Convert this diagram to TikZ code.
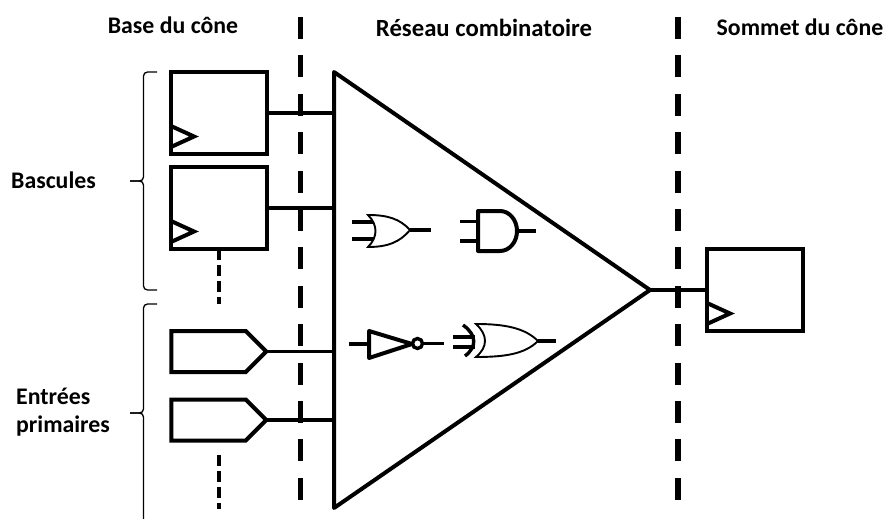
\documentclass[tikz,border=0pt]{standalone}
\usepackage{fontspec}
\setmainfont{Carlito}
\usetikzlibrary{positioning, shapes.symbols}
\tikzstyle{wire} = [line width=3.4pt]
\tikzstyle{body} = [line width=4pt]
\tikzstyle{thinwire} = [line width=1.9pt]
\tikzstyle{limit} = [line width=5.5pt, dash pattern=on 22pt off 16.4pt]
\tikzstyle{more} = [line width=3.4pt, dash pattern=on 10.5pt off 5.5pt]
\tikzstyle{accolade} = [line width=1.3pt, rounded corners=4pt]
\tikzstyle{title} = [font=\bfseries\fontsize{23.8}{28}\selectfont, inner sep=0pt]
\tikzset{
  bascule/.style={rectangle, draw, line width=4pt, inner sep=0pt, outer sep=0pt, minimum width=96pt, minimum height=82pt},
  entree/.style={signal, signal to=east, signal from=nowhere, signal pointer angle=90, draw, line width=4pt, inner sep=0pt, outer sep=0pt, minimum width=95pt, minimum height=41pt}
}
% clock mark of a flip-flop, #1 is the node
\newcommand{\horloge}[1]{%
  \draw[body, line join=miter] (#1.south west) ++(0,-28) -- ++(23,10.5) -- ++(-23,10.5);
}
\begin{document}
\begin{tikzpicture}[x=1pt, y=-1pt]
  \useasboundingbox (0,0) rectangle (887,519);

  % Titles
  \node[title] (base) at (173,25) {Base du cône};
  \node[title, font=\bfseries\fontsize{24.7}{28}\selectfont] (reseau) at (484,28) {Réseau combinatoire};
  \node[title] (sommet) at (800,27) {Sommet du cône};
  \node[title] (bascules) at (53.5,180) {Bascules};
  \node[title, align=left, anchor=west] (entrees) at (16,412.5) {Entrées\\primaires};

  % Cone
  \coordinate (coneA) at (334,72);
  \coordinate (coneB) at (650,290);
  \coordinate (coneC) at (334,508);
  \draw[body, line join=round] (coneA) -- (coneB) -- (coneC) -- cycle;

  % Flip-flops
  \node[bascule] (basculeA) at (219,113) {};
  \node[bascule] (basculeB) at (219,208) {};
  \node[bascule] (basculeC) at (755,290) {};
  \horloge{basculeA}
  \horloge{basculeB}
  \horloge{basculeC}

  % Primary inputs
  \node[entree] (entreeA) at (208.5,351.5) {};
  \node[entree] (entreeB) at (208.5,420) {};

  % Links to the cone
  \coordinate (inA) at (334,113);
  \coordinate (inB) at (334,208);
  \coordinate (inC) at (334,351.5);
  \coordinate (inD) at (334,420);
  \draw[wire] (basculeA.east) -- (inA);
  \draw[wire] (basculeB.east) -- (inB);
  \draw[wire] (entreeA.east) -- (inC);
  \draw[wire] (entreeB.east) -- (inD);
  \draw[wire] (coneB) -- (basculeC.west);

  % Limits of the cone
  \coordinate (limitA) at (300.5,17);
  \coordinate (limitB) at (300.5,500);
  \coordinate (limitC) at (678,17);
  \coordinate (limitD) at (678,500);
  \draw[limit] (limitA) -- (limitB);
  \draw[limit] (limitC) -- (limitD);

  % Further flip-flops and inputs
  \coordinate (moreA) at (219,304);
  \coordinate (moreB) at (219,455);
  \coordinate (moreC) at (219,509);
  \draw[more] (basculeB.south) -- (moreA);
  \draw[more] (moreB) -- (moreC);

  % Braces
  \draw[accolade] (157,72) -- (143.5,72) -- (143.5,181) -- (130,181);
  \draw[accolade] (130,181) -- (143.5,181) -- (143.5,290) -- (157,290);
  \draw[accolade] (157,304) -- (143.5,304) -- (143.5,413) -- (130,413);
  \draw[accolade] (130,413) -- (143.5,413) -- (143.5,519);

  % OR gate
  \draw[wire] (352,222) -- (374,222);
  \draw[wire] (352,239) -- (374,239);
  \draw[thinwire, fill=white] (368,215) .. controls (378,225) and (378,237) .. (368,247)
    .. controls (388,247) and (400,242) .. (410,230) .. controls (400,219) and (388,215) .. (368,215) -- cycle;
  \draw[wire] (410,230) -- (431,230);

  % AND gate
  \draw[wire] (460,221.5) -- (478,221.5);
  \draw[wire] (460,241) -- (478,241);
  \draw[body, line join=round] (500,251) -- (478,251) -- (478,211) -- (500,211) arc (90:-90:17pt and 20pt);
  \draw[wire] (517,231) -- (536,231);

  % NOT gate
  \draw[wire] (349,344) -- (369,344);
  \draw[body, line join=round] (369,331) -- (412,344) -- (369,358) -- cycle;
  \draw[wire] (417.5,343.5) circle (5pt);
  \draw[wire] (423,343.5) -- (444,343.5);

  % XOR gate
  \draw[wire] (453,337) -- (475,337);
  \draw[wire] (453,347) -- (475,347);
  \draw[wire] (463,325) .. controls (477,335) and (477,347) .. (465,356);
  \draw[thinwire, fill=white] (476,324) .. controls (488,335) and (488,347) .. (476,357)
    .. controls (505,357) and (525,354) .. (538,341) .. controls (525,328) and (505,324) .. (476,324) -- cycle;
  \draw[wire] (538,341) -- (556,341);
\end{tikzpicture}
\end{document}
